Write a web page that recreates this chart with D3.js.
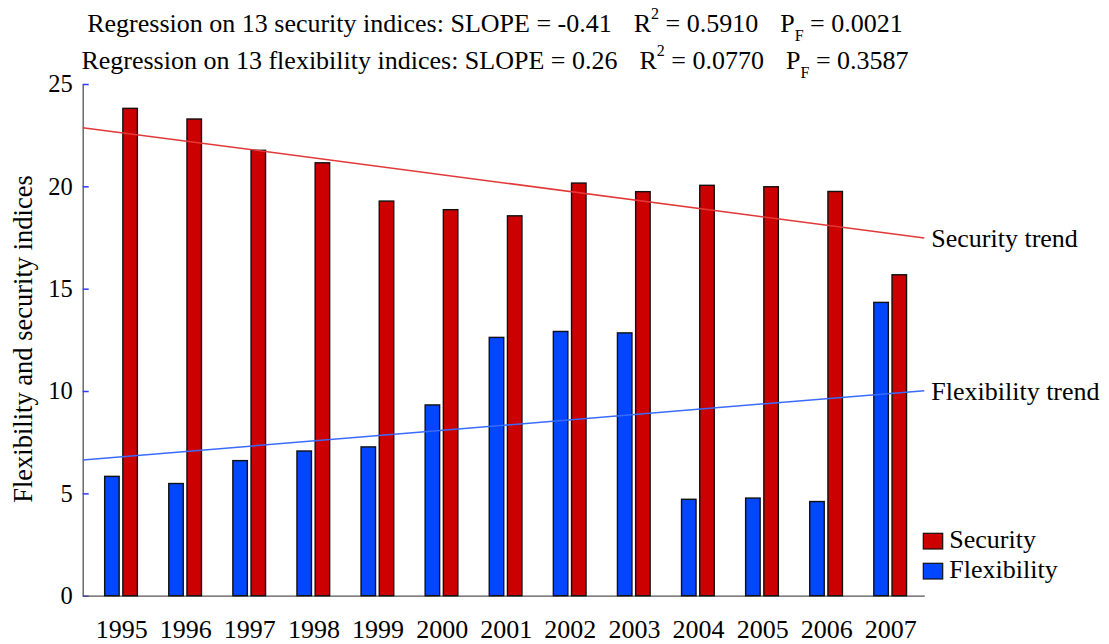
<!DOCTYPE html>
<html>
<head>
<meta charset="utf-8">
<script src="https://cdn.jsdelivr.net/npm/d3@7"></script>
<style>
  body { margin: 0; background: #fff; }
  text { font-family: "Liberation Serif", "Times New Roman", serif; fill: #000; white-space: pre; }
</style>
</head>
<body>
<svg id="chart"></svg>
<script>
//
// Data
//

const years = [1995, 1996, 1997, 1998, 1999, 2000, 2001, 2002, 2003, 2004, 2005, 2006, 2007];
const security = [23.81, 23.29, 21.76, 21.15, 19.28, 18.86, 18.56, 20.16, 19.74, 20.05, 19.98, 19.75, 15.68];
const flexibility = [5.83, 5.48, 6.60, 7.07, 7.27, 9.32, 12.62, 12.91, 12.84, 4.71, 4.77, 4.60, 14.33];
const yTicks = [0, 5, 10, 15, 20, 25];
const legendNames = ['Security', 'Flexibility'];
const trendNames = ['Security trend', 'Flexibility trend'];
const titleLines = [
  ['Regression on 13 security indices: SLOPE = -0.41', '0.5910', '0.0021'],
  ['Regression on 13 flexibility indices: SLOPE = 0.26', '0.0770', '0.3587']
];

//
// Set-up
//

const width = 1109;
const height = 644;
const red = '#cc0000';
const blue = '#0047ff';

const svg = d3.select('#chart')
  .attr('width', width)
  .attr('height', height);

// x is a continuous year scale so the trend lines can run past the first/last bar
const xScale = d3.scaleLinear()
  .domain([1994.4, 2007.53])
  .range([82.7, 924.3]);

const yScale = d3.scaleLinear()
  .domain([0, 25])
  .range([595.7, 84]);

const barWidth = 14.5;

//
// Axes
//

const yAxis = d3.axisLeft(yScale)
  .tickValues(yTicks)
  .tickSize(-6)
  .tickSizeOuter(0)
  .tickPadding(10);

const yAxisG = svg.append('g')
  .attr('transform', `translate(${xScale.range()[0]},0)`)
  .call(yAxis);
yAxisG.select('.domain').attr('stroke', '#555').attr('stroke-width', 1.3);
yAxisG.selectAll('.tick line').attr('stroke', '#2a3cff').attr('stroke-width', 1.5);
yAxisG.selectAll('.tick text')
  .style('font-family', '"Liberation Serif", serif')
  .style('font-size', '24.5px')
  .attr('fill', '#000');

const xAxis = d3.axisBottom(xScale)
  .tickValues(years)
  .tickFormat(d3.format('d'))
  .tickSize(0)
  .tickSizeOuter(0)
  .tickPadding(24);

const xAxisG = svg.append('g')
  .attr('transform', `translate(0,${yScale(0)})`)
  .call(xAxis);
xAxisG.select('.domain').attr('stroke', '#555').attr('stroke-width', 1.3);
xAxisG.selectAll('.tick text')
  .style('font-family', '"Liberation Serif", serif')
  .style('font-size', '26px')
  .attr('fill', '#000');

//
// Bars
//

const barData = years.map((yr, i) => ({ year: yr, flex: flexibility[i], sec: security[i] }));

const groups = svg.append('g').attr('class', 'bars')
  .selectAll('g')
  .data(barData)
  .enter().append('g');

groups.append('rect')
  .attr('x', d => xScale(d.year) - 16.5)
  .attr('y', d => yScale(d.flex))
  .attr('width', barWidth)
  .attr('height', d => yScale(0) - yScale(d.flex))
  .attr('fill', blue)
  .attr('stroke', '#111')
  .attr('stroke-width', 1.4);

groups.append('rect')
  .attr('x', d => xScale(d.year) + 1.7)
  .attr('y', d => yScale(d.sec))
  .attr('width', barWidth)
  .attr('height', d => yScale(0) - yScale(d.sec))
  .attr('fill', red)
  .attr('stroke', '#111')
  .attr('stroke-width', 1.4);

//
// Regression trend lines
//

function fitLine(xs, ys) {
  const mx = d3.mean(xs);
  const my = d3.mean(ys);
  const sxy = d3.sum(xs, (v, i) => (v - mx) * (ys[i] - my));
  const sxx = d3.sum(xs, v => (v - mx) * (v - mx));
  const slope = sxy / sxx;
  return xv => my + slope * (xv - mx);
}

const trends = [
  { fn: fitLine(years, security), color: '#e23838', name: trendNames[0] },
  { fn: fitLine(years, flexibility), color: '#3a6bff', name: trendNames[1] }
];

const line = d3.line()
  .x(d => xScale(d[0]))
  .y(d => yScale(d[1]));

trends.forEach(t => {
  const pts = xScale.domain().map(xv => [xv, t.fn(xv)]);
  svg.append('path')
    .attr('d', line(pts))
    .attr('fill', 'none')
    .attr('stroke', t.color)
    .attr('stroke-width', 1.5);

  svg.append('text')
    .attr('x', xScale.range()[1] + 7)
    .attr('y', yScale(pts[1][1]) + 9)
    .style('font-size', '26px')
    .text(t.name);
});

//
// Titles
//

titleLines.forEach((ln, i) => {
  const t = svg.append('text')
    .attr('x', 495)
    .attr('y', 32 + i * 37)
    .attr('text-anchor', 'middle')
    .style('font-size', '26px');
  t.append('tspan').text(ln[0]);
  t.append('tspan').attr('dx', 22).text('R');
  t.append('tspan').attr('dy', -13).style('font-size', '16px').text('2');
  t.append('tspan').attr('dy', 13).text(` = ${ln[1]}`);
  t.append('tspan').attr('dx', 22).text('P');
  // subscript kept shallow enough not to run into the next line
  t.append('tspan').attr('dy', 9).style('font-size', '16px').text('F');
  t.append('tspan').attr('dy', -9).text(` = ${ln[2]}`);
});

//
// Y label
//

svg.append('text')
  .attr('transform', 'translate(32,339) rotate(-90)')
  .attr('text-anchor', 'middle')
  .style('font-size', '26.5px')
  .text('Flexibility and security indices');

//
// Legend
//

const legendColors = [red, blue];
const legend = svg.append('g')
  .selectAll('g')
  .data(legendNames)
  .enter().append('g')
  .attr('transform', (d, i) => `translate(923.3,${533.3 + i * 30})`);

legend.append('rect')
  .attr('width', 19.4)
  .attr('height', 15.7)
  .attr('fill', (d, i) => legendColors[i])
  .attr('stroke', '#111')
  .attr('stroke-width', 1.2);

legend.append('text')
  .attr('x', 26)
  .attr('y', 14.5)
  .style('font-size', '26px')
  .text(d => d);
</script>
</body>
</html>
